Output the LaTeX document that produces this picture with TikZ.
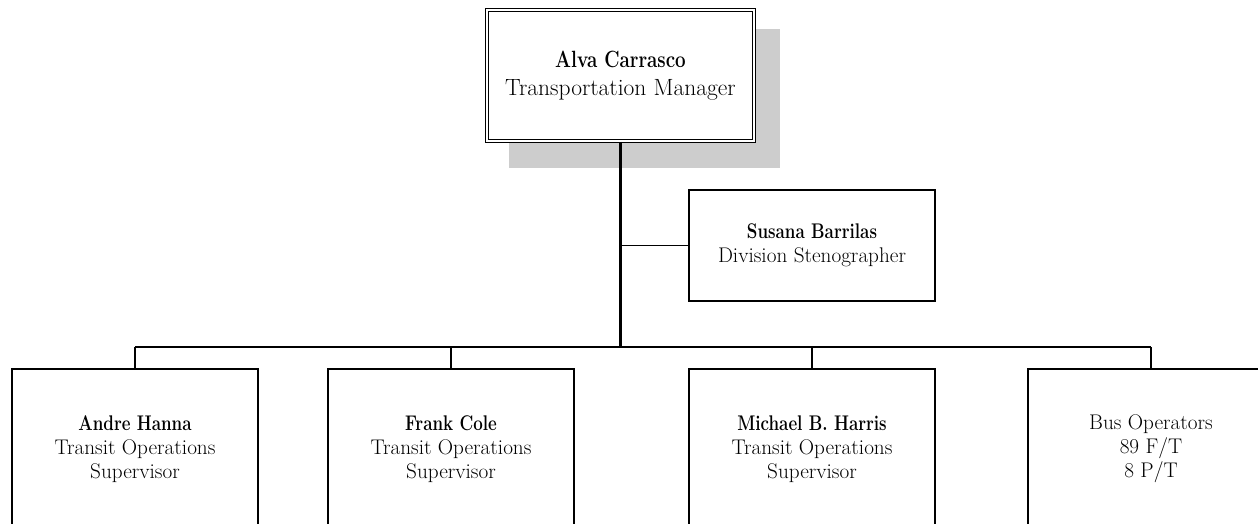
\documentclass[tikz,border=0pt]{standalone}
\usepackage{graphicx}
\usetikzlibrary{calc,backgrounds}
\definecolor{shadowgray}{RGB}{205,205,205}
\newcommand{\nm}[1]{\scalebox{0.8}[1]{\bfseries #1}}
\tikzset{
  box/.style={draw=black, line width=1.5pt, fill=white, align=center,
    inner sep=0pt, font=\fontsize{21.2}{24}\selectfont},
  topbox/.style={box, double=white, double distance=1.6pt, line width=1.6pt,
    minimum width=267pt, minimum height=131pt, font=\fontsize{23.5}{28}\selectfont},
  sidebox/.style={box, minimum width=246pt, minimum height=111pt},
  lowbox/.style={box, minimum width=246pt, minimum height=160pt},
  trunk/.style={line width=2.6pt},
  busline/.style={line width=2pt},
  link/.style={line width=1.4pt},
}
\begin{document}
\begin{tikzpicture}[x=1pt, y=-1pt]
\useasboundingbox (0,0) rectangle (1258,523);
\clip (0,0) rectangle (1258,523);

% top box with shadow
\node[topbox] (alva) at (620.5,75.5) {\nm{Alva Carrasco}\\Transportation Manager};
\begin{scope}[on background layer]
\fill[white] (0,0) rectangle (1258,523);
\fill[shadowgray] ($(alva.south west)+(23,26)$) rectangle ($(alva.north east)+(25,20)$);
\end{scope}

% side box
\node[sidebox] (susana) at (812,245.5) {\nm{Susana Barrilas}\\Division Stenographer};

% lower boxes
\node[lowbox] (andre) at (135,449) {\nm{Andre Hanna}\\Transit Operations\\Supervisor};
\node[lowbox] (frank) at (451,449) {\nm{Frank Cole}\\Transit Operations\\Supervisor};
\node[lowbox] (michael) at (812,449) {\nm{Michael B. Harris}\\Transit Operations\\Supervisor};
\node[lowbox] (buso) at (1151,449) {Bus Operators\\89 F/T\\8 P/T};

% connectors
\coordinate (jside) at (alva.south |- susana.west);
\coordinate (jbus) at (620.5,347);
\draw[trunk] (alva.south) -- (jbus);
\draw[link] (jside) -- (susana.west);
\draw[busline] (andre.north |- jbus) -- (buso.north |- jbus);
\draw[link] (andre.north) -- (andre.north |- jbus);
\draw[link] (frank.north) -- (frank.north |- jbus);
\draw[link] (michael.north) -- (michael.north |- jbus);
\draw[link] (buso.north) -- (buso.north |- jbus);
\end{tikzpicture}
\end{document}
